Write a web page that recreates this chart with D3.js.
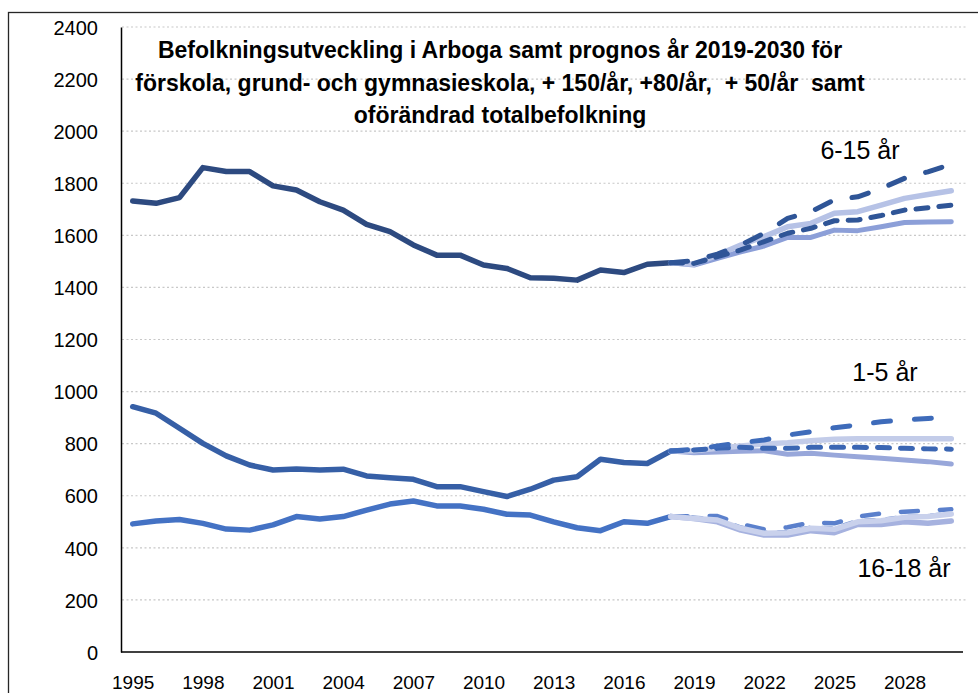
<!DOCTYPE html>
<html>
<head>
<meta charset="utf-8">
<script src="https://cdn.jsdelivr.net/npm/d3@7"></script>
<style>
  body { margin: 0; background: #fff; }
  text { font-family: "Liberation Sans", Arial, sans-serif; fill: #000; }
  .grid line { stroke: #c8c8c8; stroke-width: 1.2; stroke-dasharray: 2,2.5; }
  .axis path { stroke: #000; stroke-width: 1.5; }
  .line { fill: none; stroke-linejoin: round; stroke-linecap: round; }
</style>
</head>
<body>
<script>
// categories
var years = [1995, 1996, 1997, 1998, 1999, 2000, 2001, 2002, 2003, 2004, 2005, 2006,
             2007, 2008, 2009, 2010, 2011, 2012, 2013, 2014, 2015, 2016, 2017, 2018,
             2019, 2020, 2021, 2022, 2023, 2024, 2025, 2026, 2027, 2028, 2029, 2030];
var histYears = [1995, 1996, 1997, 1998, 1999, 2000, 2001, 2002, 2003, 2004, 2005, 2006,
                 2007, 2008, 2009, 2010, 2011, 2012, 2013, 2014, 2015, 2016, 2017, 2018];
var progYears = [2018, 2019, 2020, 2021, 2022, 2023, 2024, 2025, 2026, 2027, 2028, 2029, 2030];

// tick labels
var xTickYears = [1995, 1998, 2001, 2004, 2007, 2010, 2013, 2016, 2019, 2022, 2025, 2028];
var yTicks = [0, 200, 400, 600, 800, 1000, 1200, 1400, 1600, 1800, 2000, 2200, 2400];

// historical values
var hist6_15 = [1732, 1723, 1745, 1860, 1845, 1845, 1790, 1774, 1729, 1697, 1642, 1614,
                1563, 1524, 1524, 1486, 1473, 1437, 1435, 1428, 1467, 1457, 1489, 1495];
var hist1_5 = [942, 917, 859, 801, 753, 718, 699, 703, 699, 702, 676, 669,
               663, 635, 635, 616, 597, 625, 660, 673, 740, 728, 724, 772];
var hist16_18 = [492, 503, 509, 494, 472, 468, 488, 520, 511, 520, 545, 568,
                 580, 561, 561, 548, 529, 526, 500, 477, 466, 500, 494, 520];

// prognosis values 2018-2030: +150/år, +80/år, +50/år, oförändrad
var prog6_15_150 = [1495, 1503, 1528, 1563, 1608, 1665, 1691, 1736, 1748, 1780, 1819, 1844, 1873];
var prog6_15_80 = [1495, 1489, 1524, 1563, 1595, 1633, 1646, 1685, 1691, 1716, 1742, 1757, 1771];
var prog6_15_50 = [1495, 1492, 1518, 1544, 1576, 1608, 1627, 1656, 1659, 1676, 1697, 1706, 1716];
var prog6_15_0 = [1495, 1486, 1512, 1537, 1559, 1592, 1592, 1620, 1618, 1633, 1649, 1651, 1652];

var prog1_5_150 = [772, 778, 791, 804, 814, 833, 846, 861, 872, 884, 891, 897, 904];
var prog1_5_80 = [772, 773, 782, 791, 799, 804, 811, 817, 819, 819, 819, 819, 819];
var prog1_5_50 = [772, 776, 782, 786, 782, 782, 786, 786, 786, 785, 782, 780, 779];
var prog1_5_0 = [772, 765, 768, 771, 773, 759, 763, 756, 750, 744, 737, 731, 722];

var prog16_18_150 = [520, 522, 522, 491, 471, 479, 497, 494, 520, 532, 539, 543, 548];
var prog16_18_80 = [520, 513, 507, 475, 456, 458, 475, 471, 500, 504, 517, 520, 530];
var prog16_18_50 = [520, 516, 510, 478, 459, 461, 478, 475, 503, 507, 519, 522, 532];
var prog16_18_0 = [520, 513, 500, 468, 449, 449, 466, 458, 490, 490, 500, 494, 503];

var titleLines = ["Befolkningsutveckling i Arboga samt prognos år 2019-2030 för",
                  "förskola, grund- och gymnasieskola, + 150/år, +80/år,  + 50/år  samt",
                  "oförändrad totalbefolkning"];

var width = 978, height = 693;

var svg = d3.select("body").append("svg")
    .attr("width", width)
    .attr("height", height);

// chart frame
svg.append("rect")
    .attr("x", 8.5).attr("y", 12.5)
    .attr("width", 1000).attr("height", 1000)
    .attr("fill", "none")
    .attr("stroke", "#262626")
    .attr("stroke-width", 1.3);

// scales
var xScale = d3.scalePoint().domain(years).range([121, 963]).padding(0.5);
var yScale = d3.scaleLinear().domain([0, 2400]).range([652, 27]);

// gridlines
svg.append("g")
    .attr("class", "grid")
    .selectAll("line")
    .data(yTicks.filter(function(d) { return d > 0; }))
    .enter().append("line")
    .attr("x1", 122).attr("x2", 966)
    .attr("y1", function(d) { return yScale(d); })
    .attr("y2", function(d) { return yScale(d); });

var line = d3.line()
    .x(function(d) { return xScale(d[0]); })
    .y(function(d) { return yScale(d[1]); });

var pairs = function(xs, vs) {
  return xs.map(function(e, i) { return [e, vs[i]]; });
};

var series = [
  // 16-18
  {vals: prog16_18_0, color: "#a6b2df", w: 5.5, dash: null},
  {vals: prog16_18_50, color: "#6f8fd2", w: 4.5, dash: "9,13"},
  {vals: prog16_18_150, color: "#5b80cc", w: 4.5, dash: "17,22"},
  {vals: prog16_18_80, color: "#c9d1ec", w: 5.5, dash: null},
  // 1-5
  {vals: prog1_5_0, color: "#98a7da", w: 5, dash: null},
  {vals: prog1_5_80, color: "#c3cce9", w: 5.5, dash: null},
  {vals: prog1_5_50, color: "#3b66b3", w: 5, dash: "12,11"},
  {vals: prog1_5_150, color: "#3e6bba", w: 5, dash: "17,24"},
  // 6-15
  {vals: prog6_15_0, color: "#8c9fd8", w: 5, dash: null},
  {vals: prog6_15_80, color: "#b6c2e6", w: 5.5, dash: null},
  {vals: prog6_15_50, color: "#2f5597", w: 5, dash: "12,11"},
  {vals: prog6_15_150, color: "#2f5597", w: 5, dash: "17,22"}
];

var hist = [
  {vals: hist16_18, color: "#4472c4"},
  {vals: hist1_5, color: "#365fa6"},
  {vals: hist6_15, color: "#2d4a80"}
];

// historical lines
svg.selectAll(".hist")
    .data(hist)
    .enter().append("path")
    .attr("class", "line hist")
    .attr("d", function(d) { return line(pairs(histYears, d.vals)); })
    .attr("stroke", function(d) { return d.color; })
    .attr("stroke-width", 5.5);

// prognosis lines
svg.selectAll(".prog")
    .data(series)
    .enter().append("path")
    .attr("class", "line prog")
    .attr("d", function(d) { return line(pairs(progYears, d.vals)); })
    .attr("stroke", function(d) { return d.color; })
    .attr("stroke-width", function(d) { return d.w; })
    .attr("stroke-dasharray", function(d) { return d.dash; });

// y-axis
var yAxis = d3.axisLeft(yScale).tickValues(yTicks).tickFormat(d3.format("d"))
    .tickSize(0).tickSizeOuter(0).tickPadding(23);
var gy = svg.append("g")
    .attr("class", "axis")
    .attr("transform", "translate(121,0)")
    .call(yAxis);
gy.selectAll("text")
    .style("font-size", "20px")
    .attr("dy", "0.36em");

// x-axis
var xAxis = d3.axisBottom(xScale).tickValues(xTickYears).tickSize(0).tickSizeOuter(0).tickPadding(24);
var gx = svg.append("g")
    .attr("class", "axis")
    .attr("transform", "translate(0,652)")
    .call(xAxis);
gx.selectAll("text")
    .style("font-size", "19px");
gx.select(".domain").attr("d", "M121,0H963");

// title
svg.append("g")
    .selectAll("text")
    .data(titleLines)
    .enter().append("text")
    .attr("x", 500)
    .attr("y", function(d, i) { return 58 + i * 32.5; })
    .attr("text-anchor", "middle")
    .style("font-weight", "bold")
    .style("font-size", "23px")
    .style("white-space", "pre")
    .text(function(d) { return d; });

// group labels
var groupLabels = [
  {text: "6-15 år", x: 860, y: 159},
  {text: "1-5 år", x: 885, y: 381},
  {text: "16-18 år", x: 904, y: 577}
];
svg.selectAll(".glabel")
    .data(groupLabels)
    .enter().append("text")
    .attr("class", "glabel")
    .attr("x", function(d) { return d.x; })
    .attr("y", function(d) { return d.y; })
    .attr("text-anchor", "middle")
    .style("font-size", "25px")
    .text(function(d) { return d.text; });
</script>
</body>
</html>
